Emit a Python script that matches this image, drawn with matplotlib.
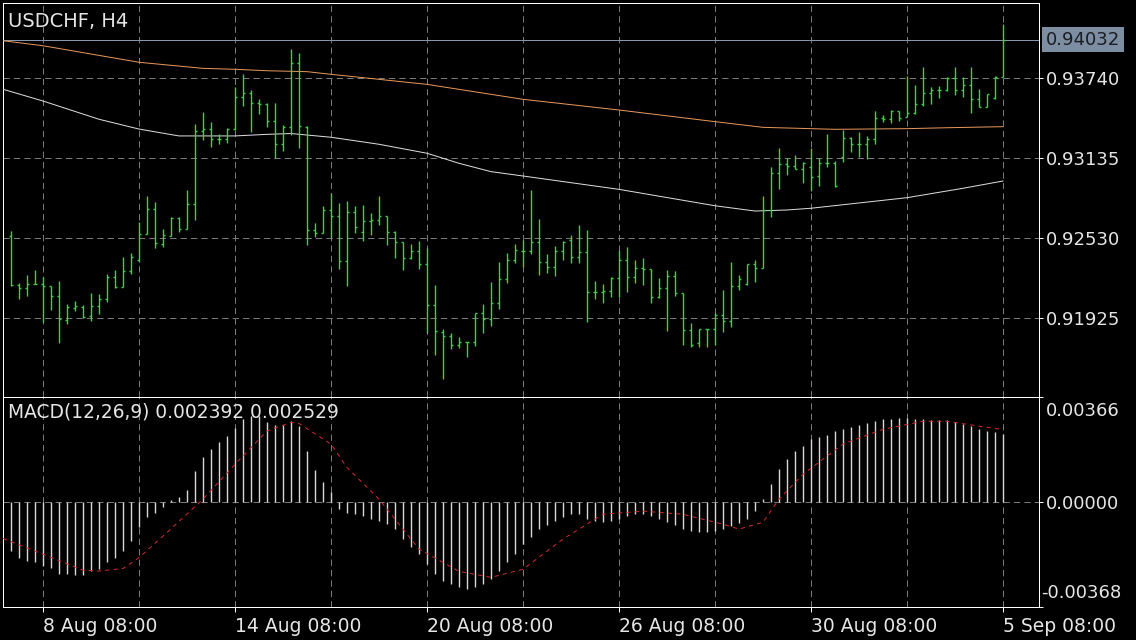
import matplotlib
matplotlib.use("Agg")
import matplotlib.pyplot as plt
import numpy as np

plt.rcParams['lines.scale_dashes'] = False
plt.rcParams['font.family'] = ['DejaVu Sans']

# ---------------- data ----------------
title = "USDCHF, H4"
macd_title = "MACD(12,26,9) 0.002392 0.002529"

opens = [0.92550, 0.92177, 0.92152, 0.92182, 0.92182, 0.92169, 0.92096, 0.91912, 0.92000, 0.92010,
         0.91942, 0.92018, 0.92071, 0.92239, 0.92164, 0.92283, 0.92366, 0.92560, 0.92749, 0.92487,
         0.92550, 0.92681, 0.92598, 0.92787, 0.93344, 0.93354, 0.93281, 0.93281, 0.93356, 0.93596,
         0.93631, 0.93555, 0.93546, 0.93417, 0.93241, 0.93374, 0.93853, 0.93374, 0.92593, 0.92572,
         0.92744, 0.92699, 0.92360, 0.92731, 0.92580, 0.92661, 0.92668, 0.92699, 0.92580, 0.92500,
         0.92383, 0.92436, 0.92333, 0.92023, 0.91824, 0.91791, 0.91723, 0.91743, 0.91743, 0.91963,
         0.91920, 0.92038, 0.92222, 0.92366, 0.92436, 0.92436, 0.92500, 0.92348, 0.92311, 0.92436,
         0.92517, 0.92386, 0.92429, 0.92121, 0.92121, 0.92131, 0.92227, 0.92366, 0.92235, 0.92303,
         0.92295, 0.92088, 0.92156, 0.92247, 0.92114, 0.91836, 0.91740, 0.91842, 0.91842, 0.91950,
         0.91904, 0.92169, 0.92184, 0.92333, 0.92303, 0.92744, 0.93021, 0.93089, 0.93079, 0.93054,
         0.93067, 0.93001, 0.93097, 0.93102, 0.93147, 0.93286, 0.93241, 0.93241, 0.93281, 0.93440,
         0.93432, 0.93493, 0.93445, 0.93475, 0.93546, 0.93626, 0.93651, 0.93651, 0.93742, 0.93651,
         0.93689, 0.93583, 0.93521, 0.93593, 0.93752]
highs = [0.92583, 0.92190, 0.92252, 0.92290, 0.92235, 0.92169, 0.92207, 0.92031, 0.92056, 0.92023,
         0.92114, 0.92106, 0.92260, 0.92290, 0.92391, 0.92416, 0.92655, 0.92852, 0.92807, 0.92598,
         0.92693, 0.92689, 0.92895, 0.93394, 0.93485, 0.93412, 0.93316, 0.93362, 0.93672, 0.93772,
         0.93651, 0.93581, 0.93555, 0.93551, 0.93387, 0.93959, 0.93929, 0.93379, 0.92648, 0.92774,
         0.92870, 0.92799, 0.92812, 0.92774, 0.92782, 0.92723, 0.92850, 0.92699, 0.92587, 0.92505,
         0.92487, 0.92512, 0.92454, 0.92177, 0.91842, 0.91816, 0.91781, 0.91743, 0.91963, 0.92033,
         0.92202, 0.92348, 0.92416, 0.92484, 0.92517, 0.92895, 0.92674, 0.92411, 0.92472, 0.92509,
         0.92555, 0.92630, 0.92593, 0.92209, 0.92184, 0.92235, 0.92441, 0.92462, 0.92366, 0.92379,
         0.92298, 0.92227, 0.92290, 0.92285, 0.92114, 0.91887, 0.91844, 0.91844, 0.91967, 0.92139,
         0.92353, 0.92252, 0.92333, 0.92366, 0.92850, 0.93071, 0.93210, 0.93135, 0.93160, 0.93109,
         0.93210, 0.93135, 0.93319, 0.93117, 0.93349, 0.93294, 0.93334, 0.93304, 0.93493, 0.93462,
         0.93500, 0.93495, 0.93757, 0.93689, 0.93823, 0.93672, 0.93682, 0.93747, 0.93823, 0.93747,
         0.93823, 0.93657, 0.93619, 0.93757, 0.94151]
lows = [0.92169, 0.92073, 0.92094, 0.92182, 0.91899, 0.91988, 0.91740, 0.91880, 0.91980, 0.91929,
        0.91907, 0.91955, 0.92050, 0.92152, 0.92164, 0.92260, 0.92353, 0.92560, 0.92454, 0.92462,
        0.92550, 0.92580, 0.92598, 0.92668, 0.93273, 0.93223, 0.93241, 0.93248, 0.93349, 0.93533,
        0.93331, 0.93470, 0.93369, 0.93135, 0.93192, 0.93311, 0.93210, 0.92479, 0.92537, 0.92568,
        0.92530, 0.92295, 0.92171, 0.92568, 0.92512, 0.92555, 0.92630, 0.92479, 0.92383, 0.92290,
        0.92371, 0.92295, 0.91811, 0.91647, 0.91466, 0.91690, 0.91698, 0.91630, 0.91718, 0.91811,
        0.91869, 0.91993, 0.92194, 0.92345, 0.92311, 0.92411, 0.92252, 0.92270, 0.92247, 0.92366,
        0.92341, 0.92345, 0.91899, 0.92069, 0.92043, 0.92084, 0.92088, 0.92126, 0.92190, 0.92177,
        0.92043, 0.92076, 0.91831, 0.92096, 0.91723, 0.91710, 0.91710, 0.91710, 0.91723, 0.91824,
        0.91857, 0.92139, 0.92177, 0.92202, 0.92303, 0.92693, 0.92900, 0.93009, 0.93054, 0.92950,
        0.92890, 0.92928, 0.93067, 0.92920, 0.93105, 0.93185, 0.93147, 0.93132, 0.93243, 0.93409,
        0.93404, 0.93419, 0.93445, 0.93470, 0.93530, 0.93543, 0.93593, 0.93646, 0.93614, 0.93596,
        0.93480, 0.93521, 0.93521, 0.93583, 0.93752]
closes = [0.92177, 0.92152, 0.92182, 0.92182, 0.92169, 0.92096, 0.91920, 0.92008, 0.92018, 0.91932,
          0.92018, 0.92071, 0.92239, 0.92164, 0.92285, 0.92391, 0.92560, 0.92749, 0.92494, 0.92555,
          0.92681, 0.92598, 0.92787, 0.93344, 0.93354, 0.93281, 0.93281, 0.93356, 0.93596, 0.93631,
          0.93555, 0.93546, 0.93417, 0.93241, 0.93374, 0.93853, 0.93379, 0.92593, 0.92572, 0.92744,
          0.92699, 0.92360, 0.92731, 0.92618, 0.92661, 0.92668, 0.92699, 0.92580, 0.92500, 0.92383,
          0.92436, 0.92333, 0.92023, 0.91831, 0.91791, 0.91723, 0.91743, 0.91743, 0.91963, 0.91920,
          0.92038, 0.92222, 0.92366, 0.92441, 0.92436, 0.92500, 0.92348, 0.92311, 0.92436, 0.92504,
          0.92386, 0.92429, 0.92121, 0.92121, 0.92131, 0.92227, 0.92366, 0.92235, 0.92303, 0.92295,
          0.92088, 0.92156, 0.92247, 0.92114, 0.91836, 0.91723, 0.91842, 0.91842, 0.91950, 0.91904,
          0.92169, 0.92220, 0.92333, 0.92303, 0.92744, 0.93021, 0.93089, 0.93079, 0.93054, 0.93099,
          0.92991, 0.93097, 0.93102, 0.92925, 0.93286, 0.93241, 0.93241, 0.93281, 0.93440, 0.93432,
          0.93493, 0.93437, 0.93475, 0.93546, 0.93626, 0.93651, 0.93651, 0.93742, 0.93651, 0.93689,
          0.93583, 0.93521, 0.93619, 0.93752, 0.94032]

# moving averages (sampled at bar indices)
ma_slow_idx = [-1, 4, 16, 24, 28, 32, 37, 40, 52, 64, 76, 88, 94, 103, 112, 117, 124]
ma_slow = [0.94024, 0.93986, 0.93861, 0.93815, 0.93808, 0.93797, 0.93790, 0.93770, 0.93694,
           0.93581, 0.93500, 0.93412, 0.93369, 0.93354, 0.93359, 0.93366, 0.93374]
ma_fast_idx = [-1, 4, 11, 16, 21, 28, 32, 35, 40, 46, 52, 56, 60, 64, 76, 88, 93, 97, 100, 112, 119, 124]
ma_fast = [0.93657, 0.93568, 0.93430, 0.93356, 0.93304, 0.93304, 0.93316, 0.93322, 0.93294, 0.93241,
           0.93173, 0.93097, 0.93034, 0.93001, 0.92900, 0.92776, 0.92736, 0.92744, 0.92757, 0.92837,
           0.92908, 0.92963]

# MACD main (histogram), in units of 1e-5
macd_hist = [-172, -196, -207, -213, -225, -234, -252, -254, -257, -257,
             -243, -237, -211, -196, -172, -137, -90, -53, -38, -17,
             5, 17, 41, 108, 157, 186, 210, 231, 257, 289,
             301, 301, 280, 268, 268, 283, 264, 178, 110, 69,
             34, -26, -38, -44, -51, -61, -68, -79, -96, -131,
             -159, -184, -219, -254, -279, -289, -300, -307, -300, -289,
             -272, -244, -212, -184, -149, -124, -96, -82, -68, -54,
             -44, -44, -61, -68, -72, -68, -61, -51, -44, -44,
             -51, -61, -72, -82, -96, -103, -107, -107, -103, -96,
             -86, -75, -61, -33, 9, 61, 114, 149, 177, 195,
             219, 226, 233, 247, 254, 261, 268, 275, 282, 289,
             289, 293, 293, 289, 289, 286, 286, 286, 279, 272,
             265, 254, 247, 244, 239]
signal_idx = [-1, 4, 9, 11, 14, 16, 19.5, 24, 28, 32, 35, 36, 40, 42, 46, 51, 56, 60, 64, 69,
              74, 79, 84, 89, 91, 94, 96, 99, 104, 109, 114, 117, 121, 124]
signal_vals = [-129, -184, -240, -243, -234, -196, -108, 9, 131, 248, 278, 274, 202, 120, 9, -166,
               -244, -265, -237, -131, -44, -33, -44, -79, -96, -72, 9, 96, 202, 254, 282, 282, 265, 253]

price_ticks = [0.93740, 0.93135, 0.92530, 0.91925]
last_price = 0.94032
macd_max, macd_min = 0.00366, -0.00368
grid_idx = list(range(4, 125, 12))
x_label_idx = [4, 28, 52, 76, 100, 124]
x_labels = ["8 Aug 08:00", "14 Aug 08:00", "20 Aug 08:00", "26 Aug 08:00", "30 Aug 08:00", "5 Sep 08:00"]

# ---------------- figure ----------------
W, H = 1136, 640
fig = plt.figure(figsize=(W / 100, H / 100), dpi=100, facecolor='black')

def rect(x0, y0, x1, y1):
    return [x0 / W, 1 - y1 / H, (x1 - x0) / W, (y1 - y0) / H]

ax = fig.add_axes(rect(3.3, 3.3, 1039.3, 397.3), facecolor='black')
ax2 = fig.add_axes(rect(3.3, 397.3, 1039.3, 606.7), facecolor='black', sharex=ax)

PX = 0.72  # one pixel in points
GREEN = '#3fd23f'
GRID = '#7a7a7a'
TXT = '#e6e6e6'
FS = 13

n = len(closes)
x = np.arange(n)
ax.set_xlim(-0.9625, 128.54)
ax.set_ylim(0.913274, 0.94307)

# grid
for gi in grid_idx:
    for a in (ax, ax2):
        a.axvline(gi, color=GRID, lw=PX, dashes=(4.5, 3), zorder=1)
for pt in price_ticks:
    ax.axhline(pt, color=GRID, lw=PX, dashes=(4.5, 3), zorder=1)

# current price line
ax.axhline(last_price, color='#8796aa', lw=PX, zorder=2)

# moving averages
ax.plot(ma_slow_idx, ma_slow, color='#e6965a', lw=PX, zorder=3)
ax.plot(ma_fast_idx, ma_fast, color='#dcdcdc', lw=PX, zorder=3)

# OHLC bars
tw = 0.3
ax.vlines(x, lows, highs, color=GREEN, lw=1.0, zorder=4, snap=True)
ax.hlines(opens, x - tw, x, color=GREEN, lw=1.0, zorder=4, snap=True)
ax.hlines(closes, x, x + tw, color=GREEN, lw=1.0, zorder=4, snap=True)

# axes styling
for a in (ax, ax2):
    for s in a.spines.values():
        s.set_color('white')
        s.set_linewidth(PX)
    a.yaxis.tick_right()
    a.tick_params(axis='y', colors='white', labelcolor=TXT, length=2.9, width=PX,
                  labelsize=FS, pad=2.0, direction='out')

ax.set_yticks(price_ticks)
ax.set_yticklabels([f"{v:.5f}" for v in price_ticks])
ax.tick_params(axis='x', bottom=False, labelbottom=False)

ax.annotate(f"{last_price:.5f}", xy=(1, last_price), xycoords=('axes fraction', 'data'),
            xytext=(6.5, 0), textcoords='offset pixels', ha='left', va='center',
            fontsize=FS, color='#1a1d22', annotation_clip=False,
            bbox=dict(boxstyle='square,pad=0.2', fc='#7d8ea3', ec='none'))

fig.text(8.3 / W, 1 - 11.7 / H, title, color=TXT, fontsize=14, ha='left', va='top')

# MACD panel
hist = np.array(macd_hist) * 1e-5
ax2.vlines(x, 0, hist, color='#d8d8d8', lw=1.0, zorder=3, snap=True)
ax2.axhline(0, color=GRID, lw=PX, dashes=(4.5, 3), zorder=1)
ax2.plot(signal_idx, np.array(signal_vals) * 1e-5, color='#d42a2a', lw=PX, dashes=(3, 3), zorder=4)
ax2.set_ylim(macd_min, macd_max)
ax2.set_yticks([macd_min, 0.0, macd_max])
ax2.set_yticklabels(['', '0.00000', ''])
ax2.annotate(f"{macd_max:.5f}", xy=(1, macd_max), xycoords=('axes fraction', 'data'),
             xytext=(6.5, -5), textcoords='offset pixels', ha='left', va='top',
             fontsize=FS, color=TXT, annotation_clip=False)
ax2.annotate(f"{macd_min:.5f}", xy=(1, macd_min), xycoords=('axes fraction', 'data'),
             xytext=(2, 5), textcoords='offset pixels', ha='left', va='bottom',
             fontsize=FS, color=TXT, annotation_clip=False)
fig.text(8.3 / W, 1 - 403 / H, macd_title, ha='left', va='top', fontsize=13.4, color=TXT)

ax2.set_xticks(x_label_idx)
ax2.set_xticklabels(x_labels)
ax2.tick_params(axis='x', colors='white', labelcolor=TXT, length=3.6, width=PX,
                labelsize=13.5, pad=4, direction='out')
for lbl in ax2.get_xticklabels():
    lbl.set_ha('left')

fig.savefig('out.png', dpi=100, facecolor='black')
